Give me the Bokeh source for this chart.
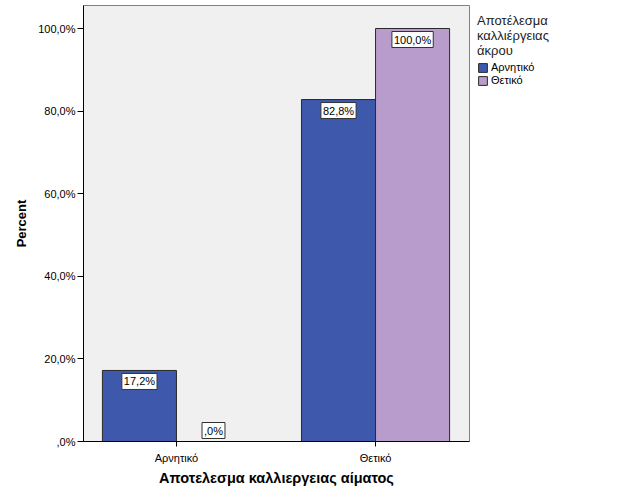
from bokeh.plotting import figure
from bokeh.models import (ColumnDataSource, Range1d, FixedTicker, Label,
                          Legend, LegendItem)
from bokeh.embed import file_html
from bokeh.resources import INLINE

# ---- data ----
blood_categories = ["Αρνητικό", "Θετικό"]
limb_negative = [17.2, 82.8]
limb_positive = [0.0, 100.0]
series_names = ["Αρνητικό", "Θετικό"]
y_ticks = [0, 20, 40, 60, 80, 100]
y_tick_labels = [",0%", "20,0%", "40,0%", "60,0%", "80,0%", "100,0%"]
legend_title_lines = ["Αποτέλεσμα", "καλλιέργειας", "άκρου"]
x_title = "Αποτελεσμα καλλιεργειας αίματος"
y_title = "Percent"

COLORS = ["#3e58ac", "#b89ccb"]
FONT = "Liberation Sans"
BW = 0.372
X0, X1 = -0.467, 1.472
Y0, Y1 = 0, 105.57


def fmt(v):
    s = f"{v:.1f}".replace(".", ",")
    if s.startswith("0,"):
        s = s[1:]
    return s + "%"


xpos = list(range(len(blood_categories)))

p = figure(frame_width=386, frame_height=436, output_backend="svg", toolbar_location=None,
           x_range=Range1d(X0, X1), y_range=Range1d(Y0, Y1),
           min_border_left=83, min_border_right=157, min_border_top=5,
           min_border_bottom=60)
p.background_fill_color = "#f0f0f0"
p.border_fill_color = "white"
p.outline_line_color = "#808080"
p.outline_line_width = 1
p.xgrid.visible = False
p.ygrid.visible = False

renderers = []
for i, (vals, name) in enumerate(zip([limb_negative, limb_positive], series_names)):
    off = (-0.5 + i) * BW
    xs = [x + off for x in xpos]
    src = ColumnDataSource(dict(x=xs, top=vals))
    r = p.vbar(x="x", top="top", width=BW, source=src, fill_color=COLORS[i],
               line_color="#2a2a2a", line_width=1)
    renderers.append((name, r))
    for xv, v in zip(xs, vals):
        if v > 0:
            base, yo = "top", -3
        else:
            base, yo = "bottom", 3
        p.add_layout(Label(x=xv, y=v, text=fmt(v), text_align="center",
                           text_baseline=base, y_offset=yo, text_font=FONT,
                           text_font_size="11px", text_color="black",
                           background_fill_color="white", border_line_color="#333333",
                           padding=2))

# axes
p.xaxis.ticker = FixedTicker(ticks=xpos)
p.xaxis.major_label_overrides = {x: c for x, c in zip(xpos, blood_categories)}
p.xaxis.minor_tick_line_color = None
p.xaxis.major_tick_in = 0
p.xaxis.major_tick_out = 5
p.xaxis.axis_line_color = "black"
p.xaxis.major_tick_line_color = "black"
p.xaxis.major_label_text_font = FONT
p.xaxis.major_label_text_font_size = "11px"
p.xaxis.major_label_text_color = "black"
p.xaxis.major_label_standoff = 5
p.xaxis.axis_label = x_title
p.xaxis.axis_label_text_font = FONT
p.xaxis.axis_label_text_font_size = "14.5px"
p.xaxis.axis_label_text_font_style = "bold"
p.xaxis.axis_label_text_color = "black"
p.xaxis.axis_label_standoff = 3

p.yaxis.ticker = FixedTicker(ticks=y_ticks)
p.yaxis.major_label_overrides = {t: l for t, l in zip(y_ticks, y_tick_labels)}
p.yaxis.minor_tick_line_color = None
p.yaxis.major_tick_in = 0
p.yaxis.major_tick_out = 6
p.yaxis.axis_line_color = "black"
p.yaxis.major_tick_line_color = "black"
p.yaxis.major_label_text_font = FONT
p.yaxis.major_label_text_font_size = "11px"
p.yaxis.major_label_text_color = "black"
p.yaxis.major_label_standoff = 2
p.yaxis.axis_label = y_title
p.yaxis.axis_label_text_font = FONT
p.yaxis.axis_label_text_font_size = "13px"
p.yaxis.axis_label_text_font_style = "bold"
p.yaxis.axis_label_text_color = "black"
p.yaxis.axis_label_standoff = 6

legend = Legend(items=[LegendItem(label=n, renderers=[r]) for n, r in renderers],
                location="top_left", orientation="vertical",
                title="\n".join(legend_title_lines))
legend.title_text_font = FONT
legend.title_text_font_size = "13px"
legend.title_text_font_style = "normal"
legend.title_text_color = "#222222"
legend.title_text_line_height = 1.0
legend.title_standoff = 3
legend.border_line_color = None
legend.background_fill_alpha = 0
legend.label_text_font = FONT
legend.label_text_font_size = "11px"
legend.label_text_color = "black"
legend.glyph_width = 11
legend.glyph_height = 11
legend.label_height = 11
legend.label_standoff = 3
legend.spacing = 1
legend.padding = 0
legend.margin = 8
p.add_layout(legend, "right")

open("out.html", "w").write(file_html(p, INLINE))
